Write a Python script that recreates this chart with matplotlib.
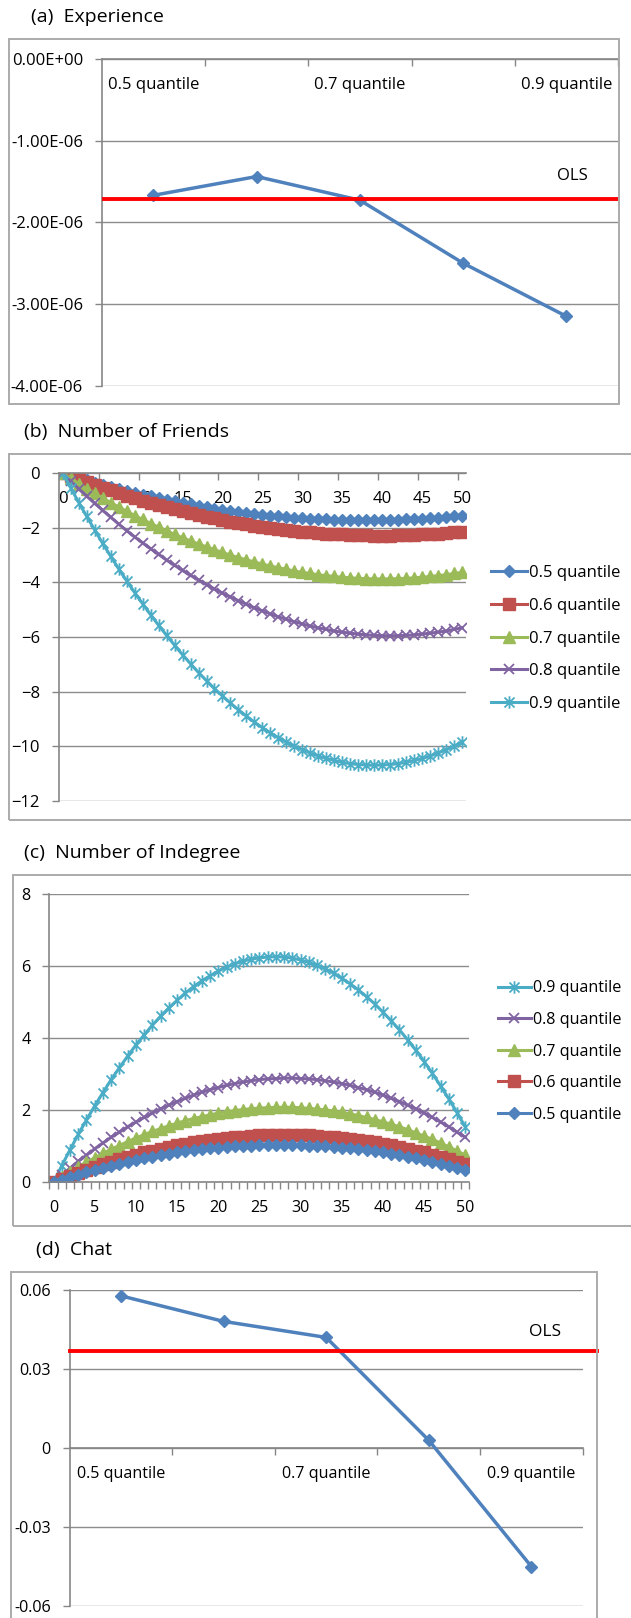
"""Quantile-regression coefficient plots: four panels stacked in one tall figure."""

import matplotlib
matplotlib.use("Agg")
import matplotlib.pyplot as plt
from matplotlib.patches import Rectangle
from matplotlib.path import Path

plt.rcParams["font.family"] = ["Open Sans", "DejaVu Sans"]

# ---- data -------------------------------------------------------------------
quantiles = ["0.5 quantile", "0.6 quantile", "0.7 quantile", "0.8 quantile", "0.9 quantile"]

experience = [-1.67e-6, -1.44e-6, -1.73e-6, -2.50e-6, -3.15e-6]
experience_ols = -1.72e-6
experience_yticks = [0, -1e-6, -2e-6, -3e-6, -4e-6]
experience_ylabels = ["0.00E+00", "-1.00E-06", "-2.00E-06", "-3.00E-06", "-4.00E-06"]

chat = [0.0577, 0.0480, 0.0419, 0.0028, -0.0452]
chat_ols = 0.0368
chat_yticks = [0.06, 0.03, 0, -0.03, -0.06]
chat_ylabels = ["0.06", "0.03", "0", "-0.03", "-0.06"]

count = list(range(51))

friends_q5 = [0, -0.09, -0.18, -0.26, -0.34, -0.42, -0.50, -0.58, -0.65, -0.72,
              -0.79, -0.85, -0.91, -0.98, -1.03, -1.09, -1.14, -1.19, -1.24, -1.29,
              -1.33, -1.38, -1.42, -1.45, -1.49, -1.52, -1.55, -1.58, -1.60, -1.62,
              -1.64, -1.66, -1.68, -1.69, -1.70, -1.71, -1.72, -1.72, -1.72, -1.72,
              -1.72, -1.71, -1.70, -1.69, -1.68, -1.66, -1.65, -1.62, -1.60, -1.58,
              -1.55]
friends_q6 = [0, -0.11, -0.22, -0.33, -0.43, -0.53, -0.63, -0.73, -0.82, -0.91,
              -1.00, -1.08, -1.16, -1.24, -1.32, -1.39, -1.46, -1.53, -1.59, -1.65,
              -1.71, -1.77, -1.82, -1.87, -1.92, -1.96, -2.00, -2.04, -2.07, -2.11,
              -2.14, -2.16, -2.19, -2.21, -2.23, -2.24, -2.26, -2.27, -2.27, -2.28,
              -2.28, -2.28, -2.27, -2.27, -2.26, -2.24, -2.23, -2.21, -2.19, -2.16,
              -2.14]
friends_q7 = [0, -0.19, -0.38, -0.56, -0.74, -0.91, -1.07, -1.24, -1.39, -1.55,
              -1.69, -1.84, -1.97, -2.11, -2.24, -2.36, -2.48, -2.59, -2.70, -2.80,
              -2.90, -3.00, -3.09, -3.17, -3.25, -3.33, -3.40, -3.46, -3.52, -3.58,
              -3.63, -3.67, -3.72, -3.75, -3.78, -3.81, -3.83, -3.85, -3.86, -3.87,
              -3.87, -3.87, -3.86, -3.85, -3.83, -3.81, -3.78, -3.75, -3.72, -3.67,
              -3.63]
friends_q8 = [0, -0.29, -0.57, -0.84, -1.10, -1.36, -1.61, -1.86, -2.10, -2.33,
              -2.55, -2.76, -2.97, -3.18, -3.37, -3.56, -3.74, -3.91, -4.08, -4.24,
              -4.39, -4.53, -4.67, -4.80, -4.93, -5.04, -5.15, -5.26, -5.35, -5.44,
              -5.52, -5.60, -5.66, -5.72, -5.78, -5.82, -5.86, -5.89, -5.92, -5.94,
              -5.95, -5.95, -5.95, -5.94, -5.92, -5.89, -5.86, -5.82, -5.78, -5.72,
              -5.66]
friends_q9 = [0, -0.54, -1.07, -1.58, -2.08, -2.57, -3.04, -3.50, -3.94, -4.37,
              -4.78, -5.18, -5.57, -5.94, -6.30, -6.65, -6.98, -7.30, -7.60, -7.89,
              -8.16, -8.42, -8.67, -8.90, -9.12, -9.32, -9.51, -9.69, -9.85, -10.00,
              -10.13, -10.25, -10.36, -10.45, -10.52, -10.59, -10.64, -10.67, -10.69, -10.70,
              -10.69, -10.67, -10.64, -10.59, -10.52, -10.45, -10.36, -10.25, -10.13, -10.00,
              -9.85]

indegree_q5 = [0, 0.07, 0.15, 0.21, 0.28, 0.34, 0.40, 0.46, 0.52, 0.57,
               0.62, 0.67, 0.71, 0.75, 0.79, 0.83, 0.86, 0.89, 0.92, 0.94,
               0.96, 0.98, 1.00, 1.01, 1.02, 1.03, 1.04, 1.04, 1.04, 1.04,
               1.03, 1.02, 1.01, 1.00, 0.98, 0.96, 0.94, 0.92, 0.89, 0.86,
               0.83, 0.79, 0.75, 0.71, 0.67, 0.62, 0.57, 0.52, 0.46, 0.40,
               0.34]
indegree_q6 = [0, 0.09, 0.18, 0.27, 0.35, 0.43, 0.50, 0.57, 0.64, 0.71,
               0.77, 0.83, 0.88, 0.93, 0.98, 1.03, 1.07, 1.11, 1.14, 1.17,
               1.20, 1.23, 1.25, 1.27, 1.28, 1.30, 1.30, 1.31, 1.31, 1.31,
               1.30, 1.30, 1.28, 1.27, 1.25, 1.23, 1.20, 1.17, 1.14, 1.11,
               1.07, 1.03, 0.98, 0.93, 0.88, 0.83, 0.77, 0.71, 0.64, 0.57,
               0.50]
indegree_q7 = [0, 0.15, 0.29, 0.42, 0.56, 0.68, 0.80, 0.92, 1.02, 1.13,
               1.23, 1.32, 1.41, 1.49, 1.57, 1.64, 1.71, 1.77, 1.82, 1.87,
               1.92, 1.96, 1.99, 2.02, 2.04, 2.06, 2.07, 2.08, 2.08, 2.08,
               2.07, 2.05, 2.03, 2.01, 1.98, 1.94, 1.90, 1.85, 1.80, 1.74,
               1.68, 1.61, 1.54, 1.46, 1.37, 1.28, 1.19, 1.09, 0.98, 0.87,
               0.75]
indegree_q8 = [0, 0.20, 0.39, 0.58, 0.75, 0.93, 1.09, 1.25, 1.39, 1.54,
               1.67, 1.80, 1.92, 2.04, 2.14, 2.24, 2.33, 2.42, 2.50, 2.57,
               2.63, 2.69, 2.74, 2.78, 2.82, 2.85, 2.87, 2.88, 2.89, 2.89,
               2.88, 2.87, 2.85, 2.82, 2.78, 2.74, 2.69, 2.63, 2.57, 2.50,
               2.42, 2.33, 2.24, 2.14, 2.04, 1.92, 1.80, 1.67, 1.54, 1.39,
               1.25]
indegree_q9 = [0, 0.46, 0.90, 1.33, 1.73, 2.12, 2.49, 2.85, 3.18, 3.50,
               3.81, 4.09, 4.36, 4.61, 4.84, 5.05, 5.25, 5.43, 5.59, 5.73,
               5.86, 5.97, 6.06, 6.14, 6.19, 6.23, 6.25, 6.26, 6.25, 6.22,
               6.17, 6.10, 6.02, 5.92, 5.80, 5.66, 5.51, 5.34, 5.15, 4.95,
               4.72, 4.48, 4.23, 3.95, 3.66, 3.35, 3.02, 2.67, 2.31, 1.93,
               1.53]

# ---- style ------------------------------------------------------------------
W, H = 631, 1618
BLUE, RED, GREEN, PURPLE, CYAN = "#4F81BD", "#C0504D", "#9BBB59", "#8064A2", "#4BACC6"
OLS_RED = "#FF0000"
GRID = "#8C8C8C"
AXIS = "#868686"
FRAME = "#ABABAB"

# Excel-style "star": an x with a vertical stroke through it
STAR = Path([(-1, -1), (1, 1), (-1, 1), (1, -1), (0, -1.25), (0, 1.25)],
            [Path.MOVETO, Path.LINETO, Path.MOVETO, Path.LINETO, Path.MOVETO, Path.LINETO])

SERIES_STYLE = {
    "0.5 quantile": dict(color=BLUE, marker="D", ms=6.3),
    "0.6 quantile": dict(color=RED, marker="s", ms=8),
    "0.7 quantile": dict(color=GREEN, marker="^", ms=8.5),
    "0.8 quantile": dict(color=PURPLE, marker="x", ms=7.2, mew=1.3),
    "0.9 quantile": dict(color=CYAN, marker=STAR, ms=9, mew=1.3),
}

fig = plt.figure(figsize=(W / 100, H / 100), dpi=100)


def px_axes(left, top, right, bottom):
    return fig.add_axes([left / W, 1 - bottom / H, (right - left) / W, (bottom - top) / H])


def frame(left, top, right, bottom):
    fig.patches.append(Rectangle((left / W, 1 - bottom / H), (right - left) / W, (bottom - top) / H,
                                 transform=fig.transFigure, fill=False, ec=FRAME, lw=1.4))


def title(x, y, s):
    fig.text(x / W, 1 - y / H, s, fontsize=14, ha="left", va="center")


def excel_axes(ax, fs, xpad=13):
    ax.set_axisbelow(True)
    for side in ("top", "right"):
        ax.spines[side].set_visible(False)
    for side in ("left", "bottom"):
        ax.spines[side].set_color(AXIS)
        ax.spines[side].set_linewidth(1.2)
    ax.spines["bottom"].set_position(("data", 0))
    ax.yaxis.grid(True, color=GRID, lw=1)
    ax.tick_params(axis="y", which="major", length=5, width=1, color=AXIS, pad=8.5, labelsize=fs)
    ax.tick_params(axis="x", which="major", length=0, pad=xpad, labelsize=fs)
    ax.tick_params(axis="x", which="minor", length=5, width=1, color=AXIS, direction="out")


def quantile_panel(ax, values, yticks, ylabels):
    pos = list(range(len(values)))
    ax.plot(pos, values, color=BLUE, lw=2.5, marker="D", ms=6.3, mfc=BLUE, mec=BLUE, zorder=3)
    ax.set_xlim(-0.5, len(values) - 0.5)
    ax.set_ylim(min(yticks), max(yticks))
    ax.set_yticks(yticks)
    ax.set_yticklabels(ylabels)
    ax.set_xticks(pos[::2])
    ax.set_xticklabels(quantiles[::2])
    ax.set_xticks([p + 0.5 for p in pos], minor=True)


def series_panel(ax, names, series):
    for name in names:
        st = SERIES_STYLE[name]
        ax.plot(count, series[name], color=st["color"], lw=2.2, marker=st["marker"], ms=st["ms"],
                mfc=st["color"], mec=st["color"], mew=st.get("mew", 1), label=name)
    ax.set_xlim(-0.5, 50.5)
    ax.set_xticks(count[::5])


# ---- (a) Experience ---------------------------------------------------------
frame(9, 39, 619, 404)
title(31, 17, "(a)  Experience")
ax = px_axes(101.8, 58.8, 618, 385.8)
excel_axes(ax, 12)
quantile_panel(ax, experience, experience_yticks, experience_ylabels)
ax.axhline(experience_ols, color=OLS_RED, lw=2.8, zorder=4)
ax.text(0.911, 0.6425, "OLS", transform=ax.transAxes, fontsize=12, ha="center", va="center")

# ---- (b) Number of Friends --------------------------------------------------
frame(9, 453.5, 660, 820)
title(24.5, 432, "(b)  Number of Friends")
ax = px_axes(58.8, 473.3, 466, 800.8)
excel_axes(ax, 12)
friends = dict(zip(quantiles, [friends_q5, friends_q6, friends_q7, friends_q8, friends_q9]))
series_panel(ax, quantiles, friends)
ax.set_ylim(-12, 0)
ax.set_yticks(range(-12, 1, 2))
ax.set_xticks([c + 4.5 for c in count[:50:5]], minor=True)
ax.legend(loc="center left", bbox_to_anchor=(490.7 / W, 1 - 638.5 / H),
          bbox_transform=fig.transFigure, frameon=False, fontsize=12, borderpad=0,
          borderaxespad=0, handlelength=2.15, handletextpad=0.15, labelspacing=1.0,
          numpoints=1)

# ---- (c) Number of Indegree -------------------------------------------------
frame(13.3, 875.3, 660, 1226)
title(24.5, 853, "(c)  Number of Indegree")
ax = px_axes(49.4, 894, 469.5, 1182.3)
excel_axes(ax, 11.6)
indegree = dict(zip(quantiles, [indegree_q5, indegree_q6, indegree_q7, indegree_q8, indegree_q9]))
series_panel(ax, quantiles[::-1], indegree)
ax.set_ylim(0, 8)
ax.set_yticks(range(0, 9, 2))
ax.set_xticks([c - 0.5 for c in count] + [50.5], minor=True)
ax.legend(loc="center left", bbox_to_anchor=(498.3 / W, 1 - 1051.5 / H),
          bbox_transform=fig.transFigure, frameon=False, fontsize=11.6, borderpad=0,
          borderaxespad=0, handlelength=2.0, handletextpad=0.15, labelspacing=0.97,
          numpoints=1)

# ---- (d) Chat ---------------------------------------------------------------
frame(11, 1272, 596.7, 1660)
title(36, 1250.5, "(d)  Chat")
ax = px_axes(69.6, 1289.8, 582.7, 1605.5)
excel_axes(ax, 11.6)
quantile_panel(ax, chat, chat_yticks, chat_ylabels)
ax.axhline(chat_ols, xmin=0, xmax=(596.7 - 69.6) / (582.7 - 69.6), color=OLS_RED, lw=2.8,
           zorder=4, clip_on=False)
ax.text(0.9275, 0.867, "OLS", transform=ax.transAxes, fontsize=12.5, ha="center", va="center")

fig.savefig("out.png", dpi=100)
